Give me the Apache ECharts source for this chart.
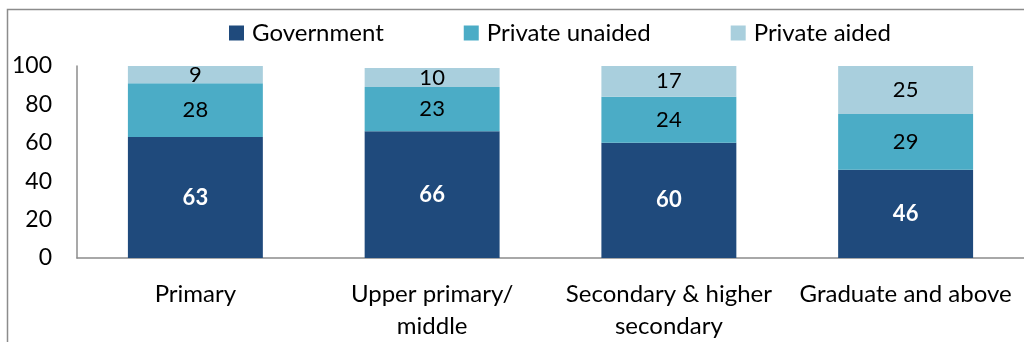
<!DOCTYPE html>
<html>
<head>
<meta charset="utf-8">
<script src="https://cdn.jsdelivr.net/npm/echarts@6/dist/echarts.min.js"></script>
<style>
  html, body { margin: 0; padding: 0; background: #fff; }
  #chart { width: 1024px; height: 342px; }
</style>
</head>
<body>
<div id="chart"></div>
<script>
// School type share by level of education (%)
const categories = ['Primary', 'Upper primary/\nmiddle', 'Secondary & higher\nsecondary', 'Graduate and above'];
const government = [63, 66, 60, 46];
const privateUnaided = [28, 23, 24, 29];
const privateAided = [9, 10, 17, 25];
const yTicks = [0, 20, 40, 60, 80, 100];

const FONT = 'Lato';
const chart = echarts.init(document.getElementById('chart'), null, { renderer: 'canvas' });

function seriesOf(name, data, color, labelColor, bold) {
  return {
    name: name,
    type: 'bar',
    stack: 'total',
    data: data,
    barWidth: '57%',
    itemStyle: { color: color },
    label: {
      show: true,
      position: 'inside',
      color: labelColor,
      fontFamily: FONT,
      fontSize: 22,
      fontWeight: bold ? 'bold' : 'normal'
    }
  };
}

chart.setOption({
  animation: false,
  textStyle: { fontFamily: FONT },
  graphic: [{
    type: 'rect',
    shape: { x: 7.5, y: 9.5, width: 1100, height: 400 },
    style: { fill: 'none', stroke: '#8c8c8c', lineWidth: 1.5 },
    silent: true
  }],
  legend: {
    top: 16,
    left: 224,
    itemWidth: 15,
    itemHeight: 15,
    itemGap: 80,
    icon: 'rect',
    textStyle: { fontFamily: FONT, fontSize: 24, color: '#000', padding: [0, 0, 0, 3] },
    data: ['Government', 'Private unaided', 'Private aided']
  },
  grid: { left: 77, top: 66, width: 960, height: 195, containLabel: false },
  xAxis: {
    type: 'category',
    data: categories,
    axisLine: { lineStyle: { color: '#8c8c8c', width: 1.5 } },
    axisTick: { show: false },
    axisLabel: {
      interval: 0,
      color: '#000',
      fontFamily: FONT,
      fontSize: 24,
      lineHeight: 32,
      margin: 20
    }
  },
  yAxis: {
    type: 'value',
    min: yTicks[0],
    max: yTicks[yTicks.length - 1],
    interval: 20,
    axisLine: { show: true, lineStyle: { color: '#8c8c8c', width: 1.5 } },
    axisTick: { show: false },
    splitLine: { show: false },
    axisLabel: { color: '#000', fontFamily: FONT, fontSize: 23, margin: 25 }
  },
  series: [
    seriesOf('Government', government, '#1F4A7C', '#fff', true),
    seriesOf('Private unaided', privateUnaided, '#4BACC6', '#000', false),
    seriesOf('Private aided', privateAided, '#A9CFDD', '#000', false)
  ]
});
</script>
</body>
</html>
